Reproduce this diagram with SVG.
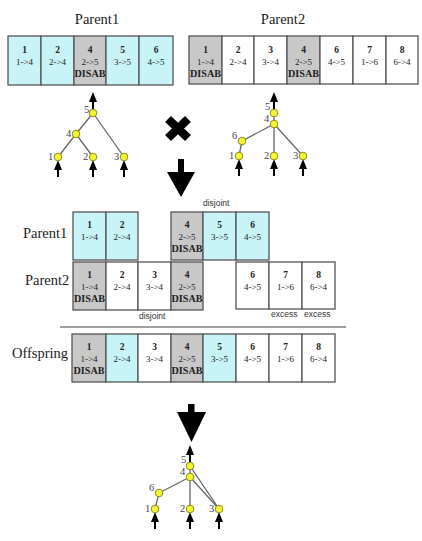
<svg xmlns="http://www.w3.org/2000/svg" width="422" height="541" viewBox="0 0 422 541">
<style>
.b{stroke:#555;stroke-width:1.3}
.c{fill:#c9f4f7}.g{fill:#c8c8c8}.w{fill:#fff}
.n{font-family:"Liberation Serif",serif;font-weight:bold;font-size:9.5px;fill:#222;text-anchor:middle}
.k{font-family:"Liberation Serif",serif;font-size:9px;fill:#222;text-anchor:middle}
.d{font-family:"Liberation Serif",serif;font-weight:bold;font-size:10px;fill:#222;text-anchor:middle}
.t{font-family:"Liberation Serif",serif;font-size:14.5px;fill:#222}
.s{font-family:"Liberation Sans",sans-serif;font-size:8.5px;fill:#333}
.e{stroke:#666;stroke-width:1.3;fill:none}
.v{fill:#f5f53a;stroke:#8c8c10;stroke-width:1}
.l{font-family:"Liberation Serif",serif;font-size:10.5px;fill:#445}
</style>
<defs>
<g id="up"><line x1="0" y1="-10" x2="0" y2="2" stroke="#000" stroke-width="2"/><polygon points="0,-15 -4,-5 4,-5" fill="#000"/></g>
</defs>
<rect width="422" height="541" fill="#fff"/>

<text class="t" x="97" y="24" text-anchor="middle">Parent1</text>
<text class="t" x="283" y="24" text-anchor="middle">Parent2</text>

<g id="p1top">
<rect class="b c" x="8" y="36" width="33" height="49"/>
<rect class="b c" x="41" y="36" width="33" height="49"/>
<rect class="b g" x="74" y="36" width="32" height="49"/>
<rect class="b c" x="106" y="36" width="33" height="49"/>
<rect class="b c" x="139" y="36" width="34" height="49"/>
<text class="n" x="24.5" y="53">1</text><text class="k" x="24.5" y="65">1-&gt;4</text>
<text class="n" x="57.5" y="53">2</text><text class="k" x="57.5" y="65">2-&gt;4</text>
<text class="n" x="90" y="53">4</text><text class="k" x="90" y="65">2-&gt;5</text><text class="d" x="90" y="77" textLength="31" lengthAdjust="spacingAndGlyphs">DISAB</text>
<text class="n" x="122.5" y="53">5</text><text class="k" x="122.5" y="65">3-&gt;5</text>
<text class="n" x="156" y="53">6</text><text class="k" x="156" y="65">4-&gt;5</text>
</g>

<g id="p2top">
<rect class="b g" x="189" y="36" width="33" height="48"/>
<rect class="b w" x="222" y="36" width="32" height="48"/>
<rect class="b w" x="254" y="36" width="33" height="48"/>
<rect class="b g" x="287" y="36" width="33" height="48"/>
<rect class="b w" x="320" y="36" width="33" height="48"/>
<rect class="b w" x="353" y="36" width="33" height="48"/>
<rect class="b w" x="386" y="36" width="32" height="48"/>
<text class="n" x="205.5" y="53">1</text><text class="k" x="205.5" y="65">1-&gt;4</text><text class="d" x="205.5" y="77" textLength="31" lengthAdjust="spacingAndGlyphs">DISAB</text>
<text class="n" x="238" y="53">2</text><text class="k" x="238" y="65">2-&gt;4</text>
<text class="n" x="270.5" y="53">3</text><text class="k" x="270.5" y="65">3-&gt;4</text>
<text class="n" x="303.5" y="53">4</text><text class="k" x="303.5" y="65">2-&gt;5</text><text class="d" x="303.5" y="77" textLength="31" lengthAdjust="spacingAndGlyphs">DISAB</text>
<text class="n" x="336.5" y="53">6</text><text class="k" x="336.5" y="65">4-&gt;5</text>
<text class="n" x="369.5" y="53">7</text><text class="k" x="369.5" y="65">1-&gt;6</text>
<text class="n" x="402" y="53">8</text><text class="k" x="402" y="65">6-&gt;4</text>
</g>

<g id="connectors">
<line class="e" x1="93" y1="113" x2="76" y2="134"/>
<line class="e" x1="93" y1="113" x2="124" y2="157"/>
<line class="e" x1="76" y1="134" x2="58" y2="157"/>
<line class="e" x1="76" y1="134" x2="93" y2="157"/>
<line class="e" x1="274" y1="113" x2="274" y2="124"/>
<line class="e" x1="274" y1="124" x2="242" y2="141"/>
<line class="e" x1="242" y1="141" x2="239" y2="156"/>
<line class="e" x1="274" y1="124" x2="274" y2="156"/>
<line class="e" x1="274" y1="124" x2="303" y2="156"/>
<line class="e" x1="190" y1="466" x2="190" y2="477"/>
<line class="e" x1="190" y1="466" x2="219" y2="509"/>
<line class="e" x1="190" y1="477" x2="219" y2="509"/>
<line class="e" x1="190" y1="477" x2="159" y2="493"/>
<line class="e" x1="159" y1="493" x2="155" y2="509"/>
<line class="e" x1="190" y1="477" x2="190" y2="509"/>
<use href="#up" x="93" y="107"/>
<use href="#up" x="58" y="175"/><use href="#up" x="93" y="175"/><use href="#up" x="124" y="175"/>
<use href="#up" x="274" y="107"/>
<use href="#up" x="239" y="174"/><use href="#up" x="274" y="174"/><use href="#up" x="303" y="174"/>
<use href="#up" x="190" y="460"/>
<use href="#up" x="155" y="527"/><use href="#up" x="190" y="527"/><use href="#up" x="219" y="527"/>
<rect x="178" y="159" width="6" height="14" fill="#000"/>
<polygon points="167,172 195,172 181,197" fill="#000"/>
<rect x="188" y="404" width="6.5" height="9" fill="#000"/>
<polygon points="177,412 206,412 191.5,442" fill="#000"/>
<path d="M168,119 L188,138 M188,119 L168,138" stroke="#000" stroke-width="8.5"/>
</g>

<g id="tree1">
<circle class="v" cx="93" cy="113" r="3.8"/><circle class="v" cx="76" cy="134" r="3.8"/>
<circle class="v" cx="58" cy="157" r="3.8"/><circle class="v" cx="93" cy="157" r="3.8"/><circle class="v" cx="124" cy="157" r="3.8"/>
<text class="l" x="84" y="113">5</text><text class="l" x="66" y="137">4</text>
<text class="l" x="48" y="160">1</text><text class="l" x="83" y="160">2</text><text class="l" x="114" y="160">3</text>
</g>
<g id="tree2">
<circle class="v" cx="274" cy="113" r="3.8"/><circle class="v" cx="274" cy="124" r="3.8"/><circle class="v" cx="242" cy="141" r="3.8"/>
<circle class="v" cx="239" cy="156" r="3.8"/><circle class="v" cx="274" cy="156" r="3.8"/><circle class="v" cx="303" cy="156" r="3.8"/>
<text class="l" x="265" y="110">5</text><text class="l" x="264" y="122">4</text><text class="l" x="232" y="139">6</text>
<text class="l" x="229" y="159">1</text><text class="l" x="264" y="159">2</text><text class="l" x="293" y="159">3</text>
</g>

<g id="mid">
<text class="t" x="23" y="238">Parent1</text>
<text class="t" x="25" y="285">Parent2</text>
<text class="t" x="12" y="358">Offspring</text>
<rect class="b c" x="73" y="212" width="33" height="48"/>
<rect class="b c" x="106" y="212" width="32" height="48"/>
<rect class="b g" x="171" y="212" width="32" height="48"/>
<rect class="b c" x="203" y="212" width="33" height="48"/>
<rect class="b c" x="236" y="212" width="33" height="48"/>
<text class="n" x="89.5" y="228">1</text><text class="k" x="89.5" y="240">1-&gt;4</text>
<text class="n" x="122" y="228">2</text><text class="k" x="122" y="240">2-&gt;4</text>
<text class="n" x="187" y="228">4</text><text class="k" x="187" y="240">2-&gt;5</text><text class="d" x="187" y="252" textLength="31" lengthAdjust="spacingAndGlyphs">DISAB</text>
<text class="n" x="219.5" y="228">5</text><text class="k" x="219.5" y="240">3-&gt;5</text>
<text class="n" x="252.5" y="228">6</text><text class="k" x="252.5" y="240">4-&gt;5</text>
<text class="s" x="203" y="206">disjoint</text>

<rect class="b g" x="73" y="262" width="33" height="48"/>
<rect class="b w" x="106" y="262" width="32" height="48"/>
<rect class="b w" x="138" y="262" width="33" height="48"/>
<rect class="b g" x="171" y="262" width="32" height="48"/>
<rect class="b w" x="236" y="262" width="33" height="47"/>
<rect class="b w" x="269" y="262" width="33" height="47"/>
<rect class="b w" x="302" y="262" width="33" height="47"/>
<text class="n" x="89.5" y="278">1</text><text class="k" x="89.5" y="290">1-&gt;4</text><text class="d" x="89.5" y="302" textLength="31" lengthAdjust="spacingAndGlyphs">DISAB</text>
<text class="n" x="122" y="278">2</text><text class="k" x="122" y="290">2-&gt;4</text>
<text class="n" x="154.5" y="278">3</text><text class="k" x="154.5" y="290">3-&gt;4</text>
<text class="n" x="187" y="278">4</text><text class="k" x="187" y="290">2-&gt;5</text><text class="d" x="187" y="302" textLength="31" lengthAdjust="spacingAndGlyphs">DISAB</text>
<text class="n" x="252.5" y="278">6</text><text class="k" x="252.5" y="290">4-&gt;5</text>
<text class="n" x="285.5" y="278">7</text><text class="k" x="285.5" y="290">1-&gt;6</text>
<text class="n" x="318.5" y="278">8</text><text class="k" x="318.5" y="290">6-&gt;4</text>
<text class="s" x="139" y="319">disjoint</text>
<text class="s" x="271" y="317">excess</text>
<text class="s" x="304" y="317">excess</text>

<line x1="60" y1="327" x2="346" y2="327" stroke="#444" stroke-width="1.2"/>

<rect class="b g" x="72" y="334" width="34" height="48"/>
<rect class="b c" x="106" y="334" width="32" height="48"/>
<rect class="b w" x="138" y="334" width="33" height="48"/>
<rect class="b g" x="171" y="334" width="32" height="48"/>
<rect class="b c" x="203" y="334" width="33" height="48"/>
<rect class="b w" x="236" y="334" width="33" height="48"/>
<rect class="b w" x="269" y="334" width="33" height="48"/>
<rect class="b w" x="302" y="334" width="33" height="48"/>
<text class="n" x="89" y="350">1</text><text class="k" x="89" y="362">1-&gt;4</text><text class="d" x="89" y="374" textLength="31" lengthAdjust="spacingAndGlyphs">DISAB</text>
<text class="n" x="122" y="350">2</text><text class="k" x="122" y="362">2-&gt;4</text>
<text class="n" x="154.5" y="350">3</text><text class="k" x="154.5" y="362">3-&gt;4</text>
<text class="n" x="187" y="350">4</text><text class="k" x="187" y="362">2-&gt;5</text><text class="d" x="187" y="374" textLength="31" lengthAdjust="spacingAndGlyphs">DISAB</text>
<text class="n" x="219.5" y="350">5</text><text class="k" x="219.5" y="362">3-&gt;5</text>
<text class="n" x="252.5" y="350">6</text><text class="k" x="252.5" y="362">4-&gt;5</text>
<text class="n" x="285.5" y="350">7</text><text class="k" x="285.5" y="362">1-&gt;6</text>
<text class="n" x="318.5" y="350">8</text><text class="k" x="318.5" y="362">6-&gt;4</text>
</g>

<g id="tree3">
<circle class="v" cx="190" cy="466" r="3.8"/><circle class="v" cx="190" cy="477" r="3.8"/><circle class="v" cx="159" cy="493" r="3.8"/>
<circle class="v" cx="155" cy="509" r="3.8"/><circle class="v" cx="190" cy="509" r="3.8"/><circle class="v" cx="219" cy="509" r="3.8"/>
<text class="l" x="181" y="463">5</text><text class="l" x="180" y="475">4</text><text class="l" x="149" y="491">6</text>
<text class="l" x="145" y="512">1</text><text class="l" x="180" y="512">2</text><text class="l" x="209" y="512">3</text>
</g>
</svg>
